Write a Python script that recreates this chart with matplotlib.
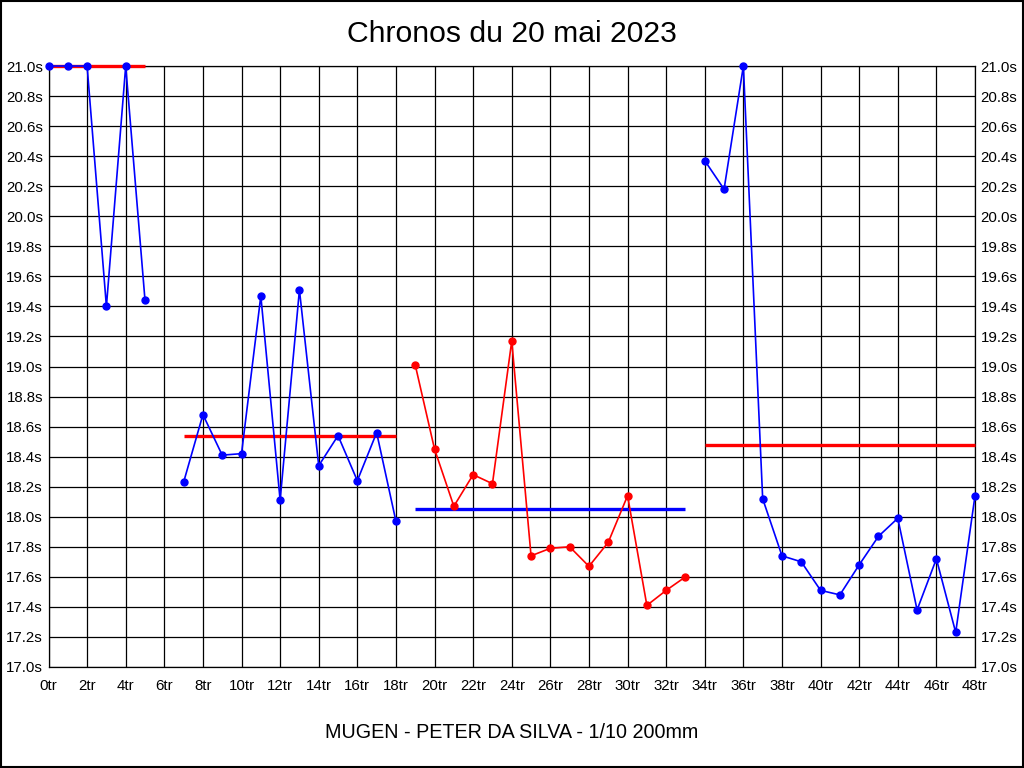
import matplotlib
matplotlib.use("Agg")
import matplotlib.pyplot as plt
from matplotlib.patches import Rectangle
import numpy as np

plt.rcParams['font.family'] = ['Liberation Sans', 'DejaVu Sans']

# Data (lap index, lap time in seconds)
laps_a = [0, 1, 2, 3, 4, 5]
times_a = [21.0, 21.0, 21.0, 19.40, 21.0, 19.44]
mean_a = 21.0

laps_b = [7, 8, 9, 10, 11, 12, 13, 14, 15, 16, 17, 18]
times_b = [18.23, 18.68, 18.41, 18.42, 19.47, 18.11, 19.51, 18.34, 18.54, 18.24, 18.56, 17.97]
mean_b = 18.54

laps_c = [19, 20, 21, 22, 23, 24, 25, 26, 27, 28, 29, 30, 31, 32, 33]
times_c = [19.01, 18.45, 18.07, 18.28, 18.22, 19.17, 17.74, 17.79, 17.80, 17.67, 17.83, 18.14, 17.41, 17.51, 17.60]
mean_c = 18.05

laps_d = [34, 35, 36, 37, 38, 39, 40, 41, 42, 43, 44, 45, 46, 47, 48]
times_d = [20.37, 20.18, 21.0, 18.12, 17.74, 17.70, 17.51, 17.48, 17.68, 17.87, 17.99, 17.38, 17.72, 17.23, 18.14]
mean_d = 18.48

x_ticks = list(range(0, 49, 2))
x_labels = [f"{v}tr" for v in x_ticks]
y_ticks = [round(17.0 + 0.2 * i, 1) for i in range(21)]
y_labels = [f"{v:.1f}s" for v in y_ticks]

title = "Chronos du 20 mai 2023"
xlabel = "MUGEN - PETER DA SILVA - 1/10 200mm"

fig = plt.figure(figsize=(10.24, 7.68), dpi=100)
ax = fig.add_axes([48.5 / 1024, 1 - 667 / 768, (975 - 48.5) / 1024, (667 - 66) / 768])

blue = "#0000ff"
red = "#ff0000"

series = [
    (laps_a, times_a, blue, mean_a, red),
    (laps_b, times_b, blue, mean_b, red),
    (laps_c, times_c, red, mean_c, blue),
    (laps_d, times_d, blue, mean_d, red),
]
for laps, times, col, mean, mcol in series:
    ax.plot(laps, times, color=col, lw=1.2, marker="o", ms=5, mec=col, mfc=col,
            clip_on=False, zorder=4)
    ax.plot([laps[0], laps[-1]], [mean, mean], color=mcol, lw=2.4,
            solid_capstyle="butt", zorder=3, clip_on=False)

ax.set_xlim(0, 48)
ax.set_ylim(17.0, 21.0)
ax.set_xticks(x_ticks)
ax.set_xticklabels(x_labels)
ax.set_yticks(y_ticks)
ax.set_yticklabels(y_labels)
ax.tick_params(axis="both", length=0, labelsize=10.8, colors="black")
ax.tick_params(axis="y", pad=4, labelright=True, right=False)
ax.tick_params(axis="x", pad=9)
ax.grid(True, color="black", lw=0.9)
ax.set_axisbelow(True)
for s in ax.spines.values():
    s.set_color("black")
    s.set_linewidth(0.9)

fig.text(0.5, 1 - 34 / 768, title, ha="center", va="center", fontsize=21.7)
fig.text(0.5, 1 - 733 / 768, xlabel, ha="center", va="center", fontsize=14.2)

fig.patches.append(Rectangle((0.0005, 0.0007), 0.999, 0.9986, transform=fig.transFigure,
                             fill=False, edgecolor="black", lw=1.5))

fig.savefig("out.png", dpi=100)
